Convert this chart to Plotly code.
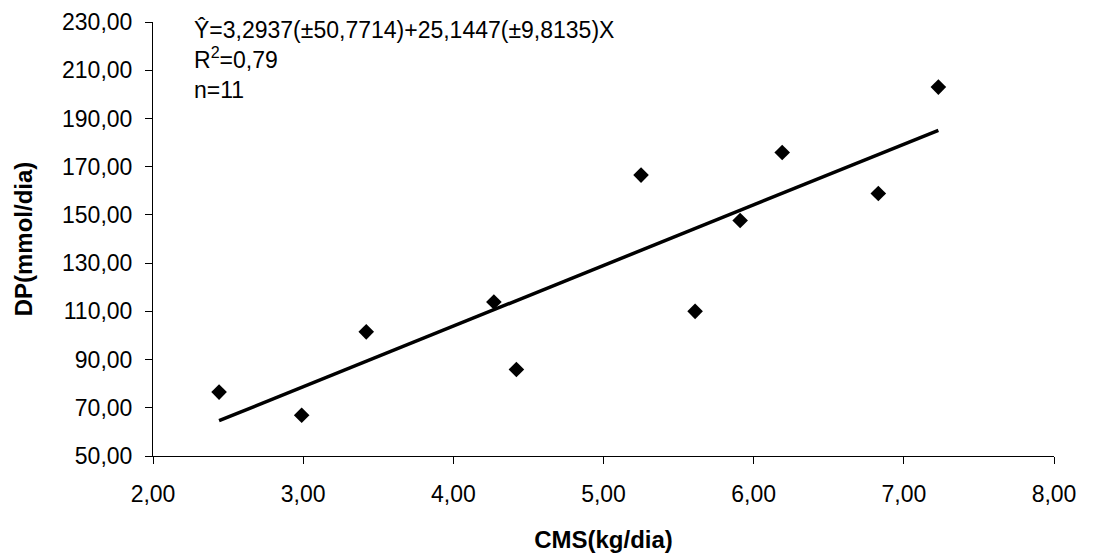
import plotly.graph_objects as go

# Data
cms = [2.44, 2.99, 3.42, 4.27, 4.42, 5.25, 5.61, 5.91, 6.19, 6.83, 7.23]
dp = [76.5, 66.9, 101.5, 113.9, 85.9, 166.5, 110.0, 147.7, 175.9, 158.9, 203.0]
intercept = 3.2937
slope = 25.1447
x_ticks = [2, 3, 4, 5, 6, 7, 8]
x_tick_labels = ["2,00", "3,00", "4,00", "5,00", "6,00", "7,00", "8,00"]
y_ticks = [50, 70, 90, 110, 130, 150, 170, 190, 210, 230]
y_tick_labels = ["50,00", "70,00", "90,00", "110,00", "130,00", "150,00",
                 "170,00", "190,00", "210,00", "230,00"]
eq_lines = ["Ŷ=3,2937(±50,7714)+25,1447(±9,8135)X", "R<sup>2</sup>=0,79", "n=11"]

fit_x = [min(cms), max(cms)]
fit_y = [intercept + slope * v for v in fit_x]

FONT = "Liberation Sans, Arial, sans-serif"

fig = go.Figure()
fig.add_trace(go.Scatter(
    x=cms, y=dp, mode="markers",
    marker=dict(symbol="diamond", size=12, color="black"),
    showlegend=False, cliponaxis=False,
))
fig.add_trace(go.Scatter(
    x=fit_x, y=fit_y, mode="lines",
    line=dict(color="black", width=3.5),
    showlegend=False,
))

fig.add_annotation(
    x=2.257, y=1.016, xref="x", yref="paper",
    xanchor="left", yanchor="top", align="left",
    text="<br>".join(eq_lines), showarrow=False,
    font=dict(family=FONT, size=23, color="black"),
)

fig.update_layout(
    width=1088, height=545,
    margin=dict(l=145, r=42, t=14, b=97),
    paper_bgcolor="white", plot_bgcolor="white",
    font=dict(family=FONT, size=23, color="black"),
)
fig.update_xaxes(
    range=[2, 8], tickvals=x_ticks, ticktext=x_tick_labels, automargin=False,
    showgrid=False, zeroline=False, showline=True, linecolor="black", linewidth=1,
    ticks="outside", ticklen=7, tickcolor="black", ticklabelstandoff=10,
    title=dict(text="<b>CMS(kg/dia)</b>", font=dict(family=FONT, size=24), standoff=26),
)
fig.update_yaxes(
    range=[50, 230], tickvals=y_ticks, ticktext=y_tick_labels, automargin=False,
    showgrid=False, zeroline=False, showline=True, linecolor="black", linewidth=1,
    ticks="outside", ticklen=7, tickcolor="black", ticklabelstandoff=8,
    title=dict(text="<b>DP(mmol/dia)</b>", font=dict(family=FONT, size=24), standoff=22),
)

fig.write_html("out.html")
